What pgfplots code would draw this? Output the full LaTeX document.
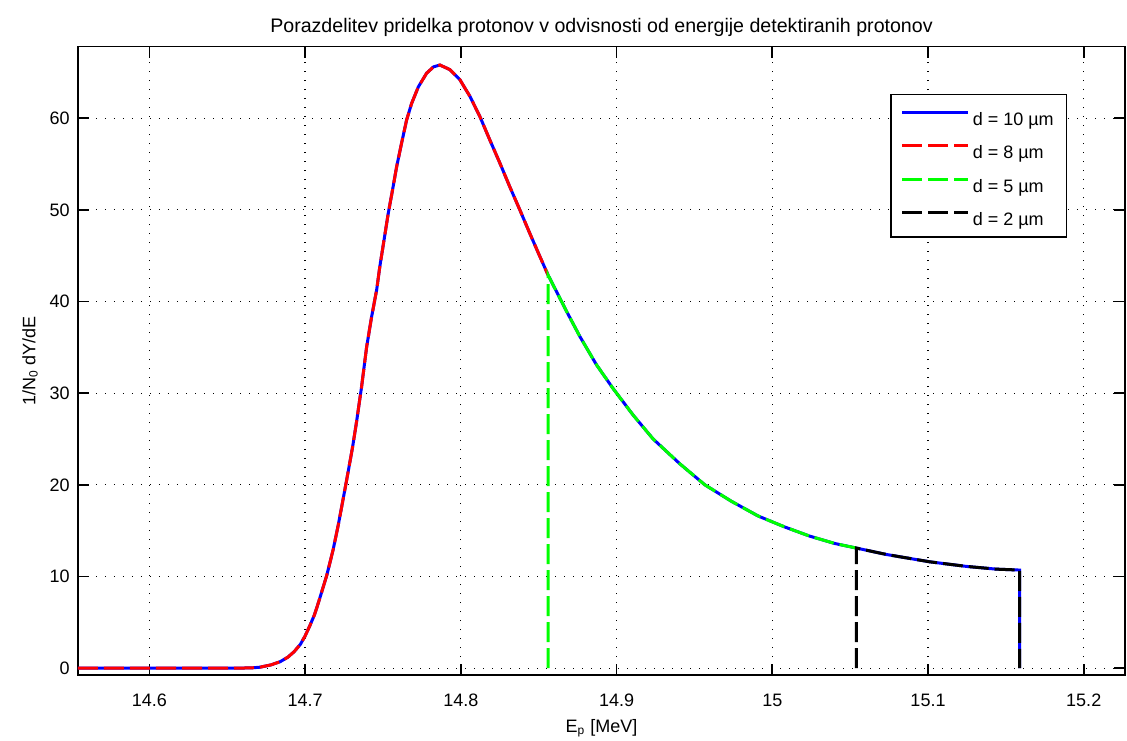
\documentclass[border=0pt]{standalone}
\usepackage{fontspec}
\setmainfont{Liberation Sans}
\usepackage{pgfplots}
\pgfplotsset{compat=1.18}
\definecolor{mblue}{rgb}{0,0,1}
\definecolor{mred}{rgb}{1,0,0}
\definecolor{mgreen}{rgb}{0,1,0}
\begin{document}
\fontsize{9}{11}\selectfont
\begin{tikzpicture}
\path[use as bounding box] (-39pt,-32.5pt) rectangle (524.5pt,337.5pt);
\begin{axis}[
  scale only axis, width=523.5pt, height=314.15pt,
  at={(0,0)}, anchor=south west,
  xmin=14.5542, xmax=15.2265, ymin=-0.75, ymax=67.8,
  xtick={14.6,14.7,14.8,14.9,15,15.1,15.2},
  xticklabels={14.6,14.7,14.8,14.9,15,15.1,15.2},
  ytick={0,10,20,30,40,50,60},
  yticklabels={0,10,20,30,40,50,60},
  tick pos=both, tick align=inside, major tick length=5.5pt,
  grid=major,
  major grid style={black, line width=0.6pt, dash pattern=on 0.6pt off 3.9pt},
  axis line style={line width=0.8pt},
  tick style={line width=0.8pt, black},
  font=\fontsize{9}{11}\selectfont,
  xticklabel style={anchor=base, yshift=-15.5pt},
  yticklabel style={inner xsep=4pt},
  every axis title shift=0pt,
  title={Porazdelitev pridelka protonov v odvisnosti od energije detektiranih protonov},
  title style={at={(axis description cs:0.5,1.022)}, anchor=base, font=\fontsize{9.8}{11}\selectfont},
  xlabel={E\textsubscript{p} [MeV]},
  xlabel style={at={(axis description cs:0.5,-0.0908)}, anchor=base},
  ylabel={1/N\textsubscript{0} dY/dE},
  ylabel style={at={(axis description cs:-0.0458,0.5)}, anchor=center},
  legend image code/.code={\draw[#1] (0pt,1.5pt) -- (33pt,1.5pt);},
  legend style={at={(axis description cs:0.7755,0.925)}, anchor=north west,
    draw=black, line width=0.8pt, inner xsep=5pt, inner ysep=3.6pt,
    nodes={inner xsep=1.5pt, inner ysep=0pt, text height=11.65pt, text depth=2pt},
    row sep=3.1pt, font=\fontsize{9}{11}\selectfont},
  legend cell align=left,
]
\addplot[mblue, line width=1.5pt] coordinates {
(14.5542,0) (14.600,0) (14.650,0) (14.665,0.02) (14.671,0.1) (14.678,0.35)
(14.684,0.7) (14.689,1.2) (14.693,1.8) (14.697,2.6) (14.700,3.5) (14.703,4.6)
(14.706,5.8) (14.7085,7.1) (14.7139,10.1) (14.718,12.9) (14.7213,15.6) (14.7245,18.5) (14.727,20.8)
(14.7305,24.1) (14.733,26.8) (14.7352,29.4) (14.7363,30.7) (14.7395,35.0) (14.7427,38.3)
(14.746,41.3) (14.748,43.8) (14.7507,46.7) (14.7534,49.6) (14.7562,52.2) (14.7588,54.7)
(14.762,57.3) (14.7652,59.8) (14.7684,61.6) (14.7727,63.4) (14.778,64.9) (14.7825,65.6)
(14.7866,65.8) (14.793,65.3) (14.7994,64.2) (14.8058,62.4) (14.8122,60.2) (14.8187,57.6)
(14.8251,55.1) (14.8315,52.5) (14.8379,50.0) (14.8444,47.4) (14.8508,44.9) (14.856,42.9)
(14.8593,41.8) (14.868,38.9) (14.8764,36.2) (14.8871,33.1) (14.8978,30.5) (14.9107,27.6)
(14.9235,25.0) (14.9406,22.3) (14.9567,20.0) (14.9738,18.2) (14.9909,16.6)
(15.008,15.4) (15.0241,14.4) (15.0401,13.6) (15.054,13.1) (15.0733,12.4) (15.1011,11.6)
(15.1246,11.1) (15.1439,10.8) (15.1589,10.7) (15.1589,0)
};
\addlegendentry{d = 10 µm}
\addplot[mred, line width=1.5pt, dash pattern=on 10pt off 3pt] coordinates {
(14.5542,0) (14.600,0) (14.650,0) (14.665,0.02) (14.671,0.1) (14.678,0.35)
(14.684,0.7) (14.689,1.2) (14.693,1.8) (14.697,2.6) (14.700,3.5) (14.703,4.6)
(14.706,5.8) (14.7085,7.1) (14.7139,10.1) (14.718,12.9) (14.7213,15.6) (14.7245,18.5) (14.727,20.8)
(14.7305,24.1) (14.733,26.8) (14.7352,29.4) (14.7363,30.7) (14.7395,35.0) (14.7427,38.3)
(14.746,41.3) (14.748,43.8) (14.7507,46.7) (14.7534,49.6) (14.7562,52.2) (14.7588,54.7)
(14.762,57.3) (14.7652,59.8) (14.7684,61.6) (14.7727,63.4) (14.778,64.9) (14.7825,65.6)
(14.7866,65.8) (14.793,65.3) (14.7994,64.2) (14.8058,62.4) (14.8122,60.2) (14.8187,57.6)
(14.8251,55.1) (14.8315,52.5) (14.8379,50.0) (14.8444,47.4) (14.8508,44.9) (14.856,42.9)
};
\addlegendentry{d = 8 µm}
\addplot[mgreen, line width=1.5pt, dash pattern=on 10pt off 3pt] coordinates {
(14.856,0) (14.856,42.9)
(14.8593,41.8) (14.868,38.9) (14.8764,36.2) (14.8871,33.1) (14.8978,30.5) (14.9107,27.6)
(14.9235,25.0) (14.9406,22.3) (14.9567,20.0) (14.9738,18.2) (14.9909,16.6)
(15.008,15.4) (15.0241,14.4) (15.0401,13.6) (15.054,13.1)
};
\addlegendentry{d = 5 µm}
\addplot[black, line width=1.5pt, dash pattern=on 10pt off 3pt] coordinates {
(15.054,0) (15.054,13.1) (15.0733,12.4) (15.1011,11.6)
(15.1246,11.1) (15.1439,10.8) (15.1589,10.7) (15.1589,0)
};
\addlegendentry{d = 2 µm}
\end{axis}
\end{tikzpicture}
\end{document}
